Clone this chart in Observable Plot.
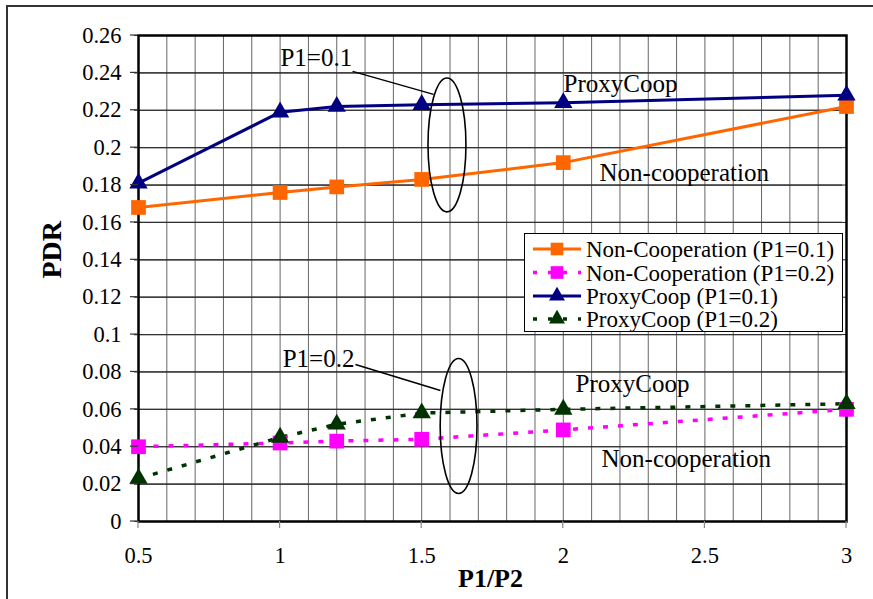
<!DOCTYPE html>
<html>
<head>
<meta charset="utf-8">
<script src="https://cdn.jsdelivr.net/npm/d3@7"></script>
<script src="https://cdn.jsdelivr.net/npm/@observablehq/plot@0.6"></script>
<style>
  html, body { margin: 0; padding: 0; background: #fff; overflow: hidden; }
  #wrap { position: relative; width: 873px; height: 599px; background: #fff; }
  #border { position: absolute; left: 6px; top: 5px; width: 900px; height: 700px; border-left: 2px solid #333; border-top: 2px solid #333; }
  #legend { position: absolute; left: 524px; top: 233px; }
</style>
</head>
<body>
<div id="wrap"><div id="border"></div></div>
<script>
// ---- data ----
const xValues = [0.5, 1, 1.2, 1.5, 2, 3];
const nonCoop01 = [0.168, 0.176, 0.179, 0.183, 0.192, 0.222];
const nonCoop02 = [0.040, 0.042, 0.043, 0.044, 0.049, 0.060];
const proxy01   = [0.181, 0.219, 0.222, 0.223, 0.224, 0.228];
const proxy02   = [0.023, 0.045, 0.052, 0.058, 0.060, 0.063];

const seriesNames = ["Non-Cooperation (P1=0.1)", "Non-Cooperation (P1=0.2)", "ProxyCoop (P1=0.1)", "ProxyCoop (P1=0.2)"];
const seriesValues = [nonCoop01, nonCoop02, proxy01, proxy02];
const seriesColors = ["#FF6600", "#FF00FF", "#000080", "#003300"];
const seriesSymbols = ["square", "square", "triangle", "triangle"];
const seriesDash = [null, "5,10", null, "5,10"];

const xTicks = [0.5, 1, 1.5, 2, 2.5, 3];
const xTickLabels = ["0.5", "1", "1.5", "2", "2.5", "3"];
const yTicks = [0, 0.02, 0.04, 0.06, 0.08, 0.1, 0.12, 0.14, 0.16, 0.18, 0.2, 0.22, 0.24, 0.26];
const yTickLabels = ["0", "0.02", "0.04", "0.06", "0.08", "0.1", "0.12", "0.14", "0.16", "0.18", "0.2", "0.22", "0.24", "0.26"];
const xGrid = [0.5,0.6,0.7,0.8,0.9,1,1.1,1.2,1.3,1.4,1.5,1.6,1.7,1.8,1.9,2,2.1,2.2,2.3,2.4,2.5,2.6,2.7,2.8,2.9,3];

// annotations (data coordinates)
const annoTexts = [
  {x: 1.001, y: 0.2477, text: "P1=0.1"},
  {x: 1.009, y: 0.0872, text: "P1=0.2"},
  {x: 2.001, y: 0.2338, text: "ProxyCoop"},
  {x: 2.128, y: 0.1867, text: "Non-cooperation"},
  {x: 2.043, y: 0.0733, text: "ProxyCoop"},
  {x: 2.135, y: 0.0337, text: "Non-cooperation"}
];
const leaders = [
  {x1: 1.256, y1: 0.2408, x2: 1.542, y2: 0.2285},
  {x1: 1.266, y1: 0.0840, x2: 1.566, y2: 0.0701}
];
const ellipses = [
  {cx: 1.591, cy: 0.2012, rx: 0.067, ry: 0.0358},
  {cx: 1.632, cy: 0.0508, rx: 0.065, ry: 0.0361}
];

// ---- build table ----
const rows = [];
seriesNames.forEach((name, s) => {
  xValues.forEach((x, i) => rows.push({series: name, s, x, y: seriesValues[s][i]}));
});

const lineMarks = seriesNames.map((name, s) =>
  Plot.line(rows.filter(d => d.s === s), {
    x: "x", y: "y", stroke: seriesColors[s],
    strokeWidth: seriesDash[s] ? 3.5 : 3,
    strokeDasharray: seriesDash[s] || undefined,
    strokeLinecap: "butt"
  })
);
const dotMarks = seriesNames.map((name, s) =>
  Plot.dot(rows.filter(d => d.s === s), {
    x: "x", y: "y", symbol: seriesSymbols[s],
    r: seriesSymbols[s] === "square" ? 8.3 : 6.8,
    fill: seriesColors[s], stroke: "none"
  })
);

const font = "'Liberation Serif', 'Times New Roman', serif";

const chart = Plot.plot({
  width: 873,
  height: 599,
  marginLeft: 138,
  marginRight: 27,
  marginTop: 35,
  marginBottom: 78,
  x: {domain: [0.5, 3], axis: null},
  y: {domain: [0, 0.26], axis: null},
  style: {fontFamily: font, background: "transparent", color: "black", overflow: "visible"},
  marks: [
    Plot.ruleX(xGrid, {stroke: "#666", strokeWidth: 1}),
    Plot.ruleY(yTicks, {stroke: "#222", strokeWidth: 1}),
    Plot.tickY(yTicks, {y: d => d, frameAnchor: "left", dx: -4, stroke: "#333", strokeWidth: 1.2, inset: 0, marginLeft: 0}),
    Plot.text(yTicks, {y: d => d, text: (d, i) => yTickLabels[i], frameAnchor: "left", dx: -17, textAnchor: "end", fontSize: 22.5, fill: "black"}),
    Plot.text(xTicks, {x: d => d, text: (d, i) => xTickLabels[i], frameAnchor: "bottom", dy: 34, lineAnchor: "middle", fontSize: 22.5, fill: "black"}),
    Plot.frame({stroke: "black", strokeWidth: 2.5}),
    ...lineMarks,
    ...dotMarks,
    Plot.link(leaders, {x1: "x1", y1: "y1", x2: "x2", y2: "y2", stroke: "black", strokeWidth: 1.5}),
    Plot.text(annoTexts, {x: "x", y: "y", text: "text", textAnchor: "start", fontSize: 25, fill: "black"}),
    Plot.text(["PDR"], {frameAnchor: "left", dx: -86, rotate: -90, fontSize: 28, fontWeight: "bold", lineAnchor: "middle", fill: "black"}),
    Plot.text(["P1/P2"], {frameAnchor: "bottom", dy: 57, dx: -2, fontSize: 26, fontWeight: "bold", lineAnchor: "middle", fill: "black"})
  ]
});

const xs = chart.scale("x"), ys = chart.scale("y");
const svgSel = d3.select(chart);
// tick marks through the plot's scales
const tg = svgSel.append("g");
tg.selectAll("line.yt").data(yTicks).join("line")
  .attr("x1", xs.apply(0.5) - 8).attr("x2", xs.apply(0.5))
  .attr("y1", d => ys.apply(d)).attr("y2", d => ys.apply(d))
  .attr("stroke", "#333").attr("stroke-width", 1.2);
tg.selectAll("line.xt").data(xTicks).join("line")
  .attr("x1", d => xs.apply(d)).attr("x2", d => xs.apply(d))
  .attr("y1", ys.apply(0)).attr("y2", ys.apply(0) + 7)
  .attr("stroke", "#888").attr("stroke-width", 1.2);
// ellipses through the plot's scales
svgSel.append("g").selectAll("ellipse").data(ellipses).join("ellipse")
  .attr("cx", d => xs.apply(d.cx))
  .attr("cy", d => ys.apply(d.cy))
  .attr("rx", d => Math.abs(xs.apply(d.cx + d.rx) - xs.apply(d.cx)))
  .attr("ry", d => Math.abs(ys.apply(d.cy + d.ry) - ys.apply(d.cy)))
  .attr("fill", "none").attr("stroke", "black").attr("stroke-width", 1.6);

const wrap = document.getElementById("wrap");
wrap.appendChild(chart);
chart.style.position = "absolute";
chart.style.left = "0px";
chart.style.top = "0px";

// legend
const lg = d3.create("svg").attr("id", "legend").attr("width", 320).attr("height", 100);
lg.append("rect").attr("x", 0.5).attr("y", 0.5).attr("width", 318).attr("height", 98)
  .attr("fill", "white").attr("stroke", "black").attr("stroke-width", 1);
const rowY = [16, 39.5, 63, 86];
seriesNames.forEach((name, s) => {
  const g = lg.append("g").attr("transform", `translate(0,${rowY[s]})`);
  g.append("line").attr("x1", 9).attr("x2", 57).attr("y1", 0).attr("y2", 0)
    .attr("stroke", seriesColors[s]).attr("stroke-width", seriesDash[s] ? 3.5 : 3)
    .attr("stroke-dasharray", seriesDash[s] ? "4,11" : null);
  const sym = seriesSymbols[s] === "square" ? d3.symbolSquare : d3.symbolTriangle;
  g.append("path").attr("d", d3.symbol(sym, seriesSymbols[s] === "square" ? 160 : 110)())
    .attr("transform", "translate(33,0)").attr("fill", seriesColors[s]);
  g.append("text").attr("x", 62).attr("y", 0).attr("dy", "0.35em")
    .attr("font-family", font).attr("font-size", 23).attr("fill", "black").text(name);
});
wrap.appendChild(lg.node());
</script>
</body>
</html>
